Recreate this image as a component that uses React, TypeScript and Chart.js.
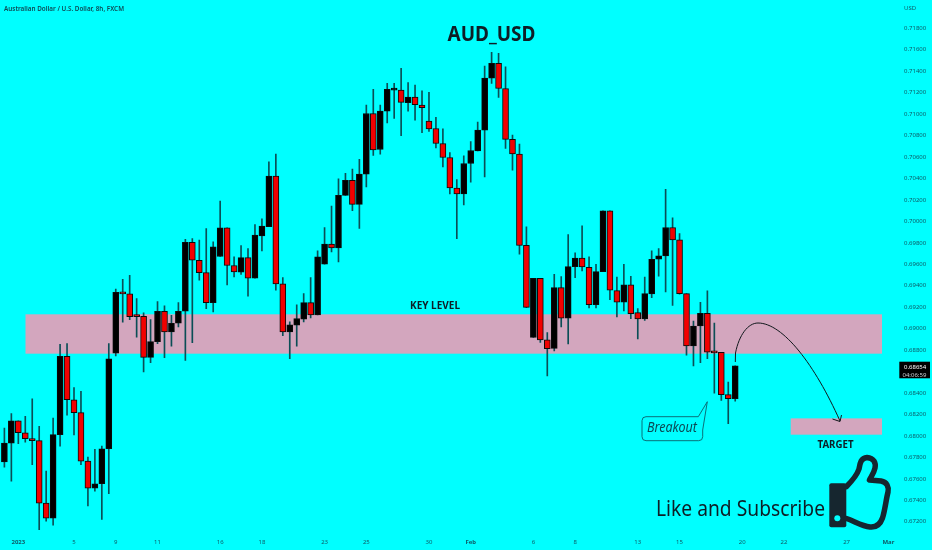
import React, { useEffect, useRef } from "react";
import { Chart, registerables } from "chart.js";

Chart.register(...registerables);

const opens = [
  0.67757, 0.67934, 0.68142, 0.6803, 0.67974, 0.67956, 0.67374, 0.67234, 0.68012, 0.68743,
  0.68338, 0.68217, 0.67766, 0.67514, 0.67555, 0.67881, 0.68771, 0.6934, 0.69324, 0.69119,
  0.69116, 0.68733, 0.68879, 0.69162, 0.6897, 0.69051, 0.69163, 0.69806, 0.69638, 0.69523,
  0.69243, 0.69673, 0.6994, 0.69589, 0.69526, 0.69663, 0.6947, 0.69865, 0.6995, 0.70422,
  0.69418, 0.6897, 0.69032, 0.69088, 0.69243, 0.69128, 0.69601, 0.69788, 0.69753, 0.70242,
  0.70382, 0.70158, 0.7044, 0.71006, 0.7067, 0.71028, 0.71224, 0.71224, 0.71106, 0.71158,
  0.71084, 0.70935, 0.70866, 0.70726, 0.70596, 0.7031, 0.70257, 0.7054, 0.70658, 0.70851,
  0.71336, 0.71473, 0.71239, 0.70764, 0.70627, 0.69778, 0.68919, 0.6947, 0.68895, 0.68817,
  0.69383, 0.69097, 0.69579, 0.69657, 0.69573, 0.69224, 0.69532, 0.70098, 0.69355, 0.69246,
  0.69408, 0.6915, 0.69091, 0.69324, 0.69647, 0.69678, 0.69943, 0.69828, 0.69327, 0.68839,
  0.69025, 0.69143, 0.6878, 0.6878, 0.68385, 0.68347,
];
const highs = [
  0.68074, 0.68208, 0.68142, 0.68183, 0.68345, 0.6809, 0.67673, 0.68167, 0.68855, 0.68861,
  0.6845, 0.68416, 0.67803, 0.67875, 0.67906, 0.68861, 0.69368, 0.69461, 0.69498, 0.69281,
  0.69147, 0.69085, 0.69253, 0.69212, 0.69125, 0.69243, 0.69834, 0.69841, 0.69825, 0.69934,
  0.69809, 0.70189, 0.6994, 0.69669, 0.69775, 0.69747, 0.69971, 0.70024, 0.70556, 0.70627,
  0.69477, 0.69063, 0.69222, 0.69327, 0.69477, 0.69725, 0.69943, 0.70142, 0.70397, 0.70447,
  0.70487, 0.70578, 0.71084, 0.7123, 0.71084, 0.71286, 0.71286, 0.71426, 0.71295, 0.7127,
  0.71218, 0.71202, 0.70969, 0.70863, 0.70642, 0.7039, 0.70611, 0.70745, 0.70925, 0.71448,
  0.71575, 0.71566, 0.71441, 0.70804, 0.7072, 0.69949, 0.6947, 0.6947, 0.68963, 0.69507,
  0.69486, 0.69877, 0.69706, 0.69958, 0.69669, 0.69601, 0.70098, 0.70098, 0.69482, 0.69601,
  0.69489, 0.69187, 0.69482, 0.69725, 0.69747, 0.703, 0.70033, 0.69887, 0.69327, 0.69072,
  0.69246, 0.69352, 0.69053, 0.6878, 0.68503, 0.68654,
];
const lows = [
  0.6771, 0.67579, 0.67928, 0.67943, 0.67732, 0.67079, 0.67206, 0.67169, 0.67906, 0.68195,
  0.68009, 0.67732, 0.67349, 0.67486, 0.67222, 0.67461, 0.68746, 0.6906, 0.69085, 0.6892,
  0.68596, 0.68684, 0.68861, 0.6873, 0.68836, 0.69016, 0.68705, 0.6887, 0.69452, 0.69187,
  0.69156, 0.69673, 0.69408, 0.69483, 0.69505, 0.69303, 0.6947, 0.69725, 0.6995, 0.69358,
  0.68936, 0.68721, 0.68836, 0.69063, 0.691, 0.69128, 0.69601, 0.69716, 0.69623, 0.70242,
  0.70099, 0.69934, 0.70322, 0.70614, 0.70627, 0.70919, 0.70959, 0.70798, 0.71028, 0.70944,
  0.70826, 0.70838, 0.70686, 0.70508, 0.70257, 0.6984, 0.70154, 0.70365, 0.70658, 0.70415,
  0.71286, 0.71155, 0.7068, 0.70477, 0.69694, 0.69196, 0.68919, 0.68873, 0.68559, 0.68792,
  0.69016, 0.68857, 0.69476, 0.69538, 0.69193, 0.69193, 0.69532, 0.69271, 0.69109, 0.69165,
  0.69094, 0.68904, 0.69078, 0.6929, 0.69489, 0.69342, 0.69218, 0.69321, 0.68752, 0.68652,
  0.68683, 0.6872, 0.684, 0.68332, 0.68114, 0.68325,
];
const closes = [
  0.67934, 0.68142, 0.6803, 0.67974, 0.67956, 0.67374, 0.67234, 0.68012, 0.68743, 0.68338,
  0.68217, 0.67766, 0.67514, 0.67555, 0.67881, 0.68718, 0.6934, 0.69324, 0.69113, 0.69113,
  0.68733, 0.68879, 0.69162, 0.6897, 0.69051, 0.69162, 0.69806, 0.69638, 0.69523, 0.69243,
  0.69763, 0.6994, 0.69589, 0.6953, 0.69663, 0.6947, 0.69872, 0.69956, 0.70422, 0.69418,
  0.6897, 0.69035, 0.69094, 0.69243, 0.69128, 0.69669, 0.69788, 0.69753, 0.70242, 0.70382,
  0.70158, 0.70441, 0.71006, 0.70667, 0.71028, 0.7123, 0.7123, 0.71109, 0.71158, 0.71087,
  0.71059, 0.70863, 0.70726, 0.70596, 0.70313, 0.70257, 0.7054, 0.70661, 0.70851, 0.71336,
  0.71473, 0.71239, 0.70764, 0.7063, 0.69775, 0.69199, 0.6947, 0.68895, 0.68814, 0.69383,
  0.69097, 0.69579, 0.69657, 0.69576, 0.69224, 0.69532, 0.70098, 0.69358, 0.69246, 0.69408,
  0.6914, 0.69091, 0.69327, 0.69647, 0.69678, 0.69943, 0.69828, 0.69327, 0.68839, 0.69025,
  0.69143, 0.6878, 0.68774, 0.68385, 0.68347, 0.68654,
];

const priceTicks = [
  0.672, 0.674, 0.676, 0.678, 0.68, 0.682, 0.684, 0.688, 0.69, 0.692, 0.694, 0.696, 0.698,
  0.7, 0.702, 0.704, 0.706, 0.708, 0.71, 0.712, 0.714, 0.716, 0.718,
];
const dateTickIndexes = [2, 10, 16, 22, 31, 37, 46, 52, 61, 67, 76, 82, 91, 97, 106, 112, 121, 127];
const dateTickLabels = ["2023", "5", "9", "11", "16", "18", "23", "25", "30", "Feb", "6", "8", "13", "15", "20", "22", "27", "Mar"];
const boldDateLabels = ["2023", "Feb", "Mar"];

const keyLevelPrices = [0.68767, 0.69134];
const keyLevelIndexes = [3.03, 126.09];
const targetPrices = [0.68012, 0.68164];
const targetIndexes = [112.97, 126.09];
const lastPrice = "0.68654";
const countdown = "04:06:59";

const CYAN = "#00FFFF";
const PINK = "#D3A6BE";
const INK = "#0E1E26";
const AXIS_INK = "#0D5A66";
const SANS = '"Noto Sans", "Open Sans", sans-serif';

type Text = { s: string; x: number; y: number; font: string; color: string; w?: number; align?: CanvasTextAlign };

const texts: Text[] = [
  { s: "AUD_USD", x: 447.5, y: 41, font: `bold 22px ${SANS}`, color: INK, w: 88 },
  { s: "KEY LEVEL", x: 410, y: 309, font: `bold 10px ${SANS}`, color: INK, w: 50 },
  { s: "TARGET", x: 817.5, y: 448, font: `bold 11px ${SANS}`, color: INK, w: 36 },
  { s: "Like and Subscribe", x: 656, y: 515.5, font: `22px ${SANS}`, color: INK, w: 169 },
  { s: "Breakout", x: 647, y: 432, font: `italic 14px ${SANS}`, color: "#0C4A55", w: 50 },
  { s: "Australian Dollar / U.S. Dollar, 8h, FXCM", x: 4, y: 11, font: `600 6.5px ${SANS}`, color: "#0D4A55", w: 120 },
  { s: "USD", x: 904, y: 9.5, font: `6px ${SANS}`, color: AXIS_INK },
];

const annotations = {
  id: "annotations",
  beforeDatasetsDraw(chart: any) {
    const { ctx, scales } = chart;
    const { x, y } = scales;
    ctx.save();
    ctx.fillStyle = PINK;
    const zone = (idx: number[], p: number[]) => {
      const x0 = x.getPixelForValue(idx[0]);
      const x1 = x.getPixelForValue(idx[1]);
      const y0 = y.getPixelForValue(p[1]);
      const y1 = y.getPixelForValue(p[0]);
      ctx.fillRect(x0, y0, x1 - x0, y1 - y0);
    };
    zone(keyLevelIndexes, keyLevelPrices);
    zone(targetIndexes, targetPrices);
    ctx.restore();
  },
  afterDatasetsDraw(chart: any) {
    const { ctx } = chart;
    ctx.save();

    // forecast arrow
    ctx.strokeStyle = "#10181C";
    ctx.lineWidth = 1;
    ctx.beginPath();
    ctx.moveTo(735.3, 362);
    ctx.lineTo(735.5, 353);
    ctx.bezierCurveTo(739, 335, 748, 323, 758, 323);
    ctx.bezierCurveTo(783, 323, 815, 365, 840, 421);
    ctx.moveTo(832.5, 419);
    ctx.lineTo(840, 421.5);
    ctx.lineTo(841.5, 415);
    ctx.stroke();

    // breakout callout
    ctx.strokeStyle = "#0B6F78";
    ctx.fillStyle = CYAN;
    ctx.beginPath();
    ctx.moveTo(646, 416.7);
    ctx.lineTo(698.3, 416.7);
    ctx.lineTo(707.3, 401.7);
    ctx.lineTo(702.7, 430);
    ctx.lineTo(702.7, 436.7);
    ctx.arcTo(702.7, 440.7, 698.7, 440.7, 4);
    ctx.lineTo(646, 440.7);
    ctx.arcTo(642, 440.7, 642, 436.7, 4);
    ctx.lineTo(642, 420.7);
    ctx.arcTo(642, 416.7, 646, 416.7, 4);
    ctx.closePath();
    ctx.fill();
    ctx.stroke();

    // thumb icon
    ctx.fillStyle = "#16262F";
    ctx.beginPath();
    ctx.roundRect(829.3, 483.3, 17, 44, 2);
    ctx.fill();
    ctx.fillStyle = CYAN;
    ctx.beginPath();
    ctx.arc(837.3, 518.3, 3, 0, Math.PI * 2);
    ctx.fill();
    ctx.strokeStyle = "#16262F";
    ctx.lineWidth = 5.5;
    ctx.lineJoin = "round";
    ctx.lineCap = "round";
    ctx.beginPath();
    ctx.moveTo(846.5, 486.5);
    ctx.bezierCurveTo(851, 482, 857, 475, 859, 469);
    ctx.bezierCurveTo(860, 463, 861, 458, 867, 457.5);
    ctx.bezierCurveTo(874, 458, 876, 463, 875, 468);
    ctx.bezierCurveTo(874, 473, 871, 477, 869.5, 480);
    ctx.lineTo(881, 481);
    ctx.bezierCurveTo(887, 482, 889, 487, 888, 492);
    ctx.bezierCurveTo(886, 500, 885, 510, 882.5, 518);
    ctx.bezierCurveTo(880, 525, 875, 527.5, 870, 527);
    ctx.bezierCurveTo(862, 526, 854, 521, 846.5, 518.5);
    ctx.stroke();

    // price tag
    ctx.fillStyle = "#000000";
    ctx.fillRect(899.3, 361.7, 30.7, 16.6);
    ctx.textAlign = "left";
    ctx.textBaseline = "alphabetic";
    ctx.fillStyle = "#FFFFFF";
    ctx.font = `6px ${SANS}`;
    ctx.fillText(lastPrice, 904, 369);
    ctx.fillStyle = "#C8CDD0";
    ctx.fillText(countdown, 902.5, 376.5);

    // labels
    for (const t of texts) {
      ctx.font = t.font;
      ctx.fillStyle = t.color;
      ctx.textAlign = t.align ?? "left";
      if (t.w) ctx.fillText(t.s, t.x, t.y, t.w);
      else ctx.fillText(t.s, t.x, t.y);
    }
    ctx.restore();
  },
};

export default function App() {
  const ref = useRef<HTMLCanvasElement | null>(null);

  useEffect(() => {
    if (!ref.current) return;
    const bodies = opens.map((o, i) => ({ x: i, y: [Math.min(o, closes[i]), Math.max(o, closes[i])] }));
    const wicks = highs.map((h, i) => ({ x: i, y: [lows[i], h] }));
    const bodyColors = opens.map((o, i) => (closes[i] >= o && i !== 102 ? "#000000" : "#F20000"));

    const chart = new Chart(ref.current, {
      type: "bar",
      data: {
        datasets: [
          {
            label: "Wick",
            data: wicks as any,
            backgroundColor: "#0B4E56",
            borderWidth: 0,
            barThickness: 1,
            grouped: false,
            order: 2,
          },
          {
            label: "AUD/USD 8h",
            data: bodies as any,
            backgroundColor: bodyColors,
            borderColor: "#0A0A0A",
            borderWidth: 1,
            borderSkipped: false,
            barThickness: 6,
            minBarLength: 2,
            grouped: false,
            order: 1,
          },
        ],
      },
      options: {
        responsive: false,
        animation: false,
        layout: { padding: 0, autoPadding: false },
        plugins: { legend: { display: false }, tooltip: { enabled: false }, title: { display: false } },
        scales: {
          x: {
            type: "linear",
            bounds: "data",
            offset: false,
            min: -0.632,
            max: 128.1,
            grid: { display: false, drawTicks: false },
            border: { display: false },
            afterFit: (s: any) => { s.height = 20; },
            afterBuildTicks: (s: any) => { s.ticks = dateTickIndexes.map((value) => ({ value })); },
            ticks: {
              autoSkip: false,
              maxRotation: 0,
              padding: 9,
              color: AXIS_INK,
              font: (c: any) => {
                const label = dateTickLabels[dateTickIndexes.indexOf(c.tick?.value)];
                return { family: "Noto Sans", size: 6, weight: boldDateLabels.includes(label) ? "bold" : "normal" };
              },
              callback: (v: any) => dateTickLabels[dateTickIndexes.indexOf(Number(v))] ?? "",
            } as any,
          },
          y: {
            type: "linear",
            bounds: "data",
            position: "right",
            min: 0.671235,
            max: 0.719556,
            grid: { display: false, drawTicks: false },
            border: { display: false },
            afterFit: (s: any) => { s.width = 36; },
            afterBuildTicks: (s: any) => { s.ticks = priceTicks.map((value) => ({ value })); },
            ticks: {
              autoSkip: false,
              padding: 8,
              color: AXIS_INK,
              font: { family: "Noto Sans", size: 6 },
              callback: (v: any) => Number(v).toFixed(5),
            },
          },
        },
      },
      plugins: [annotations],
    });
    return () => chart.destroy();
  }, []);

  return (
    <div style={{ position: "fixed", inset: 0, background: CYAN }}>
      <canvas ref={ref} width={932} height={550} style={{ display: "block", width: 932, height: 550 }} />
    </div>
  );
}
